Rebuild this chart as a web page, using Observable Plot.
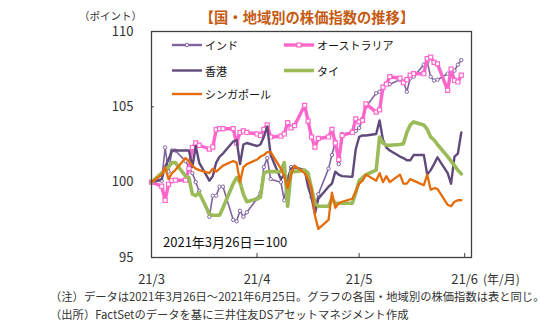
<!DOCTYPE html>
<html><head><meta charset="utf-8">
<script src="https://cdn.jsdelivr.net/npm/d3@7"></script>
<script src="https://cdn.jsdelivr.net/npm/@observablehq/plot@0.6"></script>
<style>
body{margin:0;background:#fff;}
#chart{width:558px;height:323px;}
svg{display:block;}
</style></head><body><div id="chart"></div>
<script>
const dates = [
"2021-03-26",
"2021-03-29","2021-03-30","2021-03-31","2021-04-01","2021-04-02",
"2021-04-05","2021-04-06","2021-04-07","2021-04-08","2021-04-09",
"2021-04-12","2021-04-13","2021-04-14","2021-04-15","2021-04-16",
"2021-04-19","2021-04-20","2021-04-21","2021-04-22","2021-04-23",
"2021-04-26","2021-04-27","2021-04-28","2021-04-29","2021-04-30",
"2021-05-03","2021-05-04","2021-05-05","2021-05-06","2021-05-07",
"2021-05-10","2021-05-11","2021-05-12","2021-05-13","2021-05-14",
"2021-05-17","2021-05-18","2021-05-19","2021-05-20","2021-05-21",
"2021-05-24","2021-05-25","2021-05-26","2021-05-27","2021-05-28",
"2021-05-31","2021-06-01","2021-06-02","2021-06-03","2021-06-04",
"2021-06-07","2021-06-08","2021-06-09","2021-06-10","2021-06-11",
"2021-06-14","2021-06-15","2021-06-16","2021-06-17","2021-06-18",
"2021-06-21","2021-06-22","2021-06-23","2021-06-24","2021-06-25"];

const india = [100.0,
100.1,102.3,100.7,102.1,102.1,
101.4,101.0,100.6,100.0,99.4,
97.7,99.1,99.1,99.7,99.7,
97.5,97.4,98.1,97.7,98.0,
98.9,99.3,101.0,101.6,100.2,
100.0,98.8,100.3,101.0,101.0,
100.7,100.2,99.0,98.2,99.2,
100.9,101.8,102.7,101.2,103.2,
103.3,103.4,103.6,104.2,105.0,
105.9,106.0,106.3,106.5,106.5,
106.8,106.7,106.0,106.9,107.0,
107.8,108.0,107.0,106.75,106.8,
107.2,107.2,107.4,107.8,108.1];

const australia = [100.0,
99.73,98.8,99.86,100.1,100.13,
100.13,100.9,102.3,102.6,102.45,
102.2,102.33,103.48,103.55,103.55,
103.55,102.6,103.3,103.4,103.3,
103.2,103.1,103.5,103.8,103.0,
103.05,103.2,103.95,103.6,103.75,
105.1,104.05,103.0,102.33,102.9,
103.0,103.5,102.6,101.5,103.1,
103.3,104.2,104.0,104.1,105.2,
104.65,104.8,106.3,106.5,107.0,
106.9,106.6,106.8,107.1,107.2,
107.2,108.2,108.3,107.95,107.85,
106.1,107.5,106.75,106.65,107.1];

const hongkong = [100.0,
100.2,101.0,101.5,102.1,102.1,
102.1,102.1,101.0,102.4,101.3,
100.1,100.4,101.3,101.7,101.9,
102.7,102.8,101.2,102.5,102.6,
102.4,102.5,103.0,103.7,101.8,
100.2,100.5,100.1,100.9,101.0,
100.8,99.7,99.0,97.9,98.9,
99.7,99.9,100.7,100.5,100.4,
100.35,102.2,103.0,103.1,103.1,
103.2,104.1,102.8,102.3,102.1,
101.7,101.6,101.45,101.45,101.8,
101.8,100.5,100.8,101.2,101.65,
100.6,99.9,101.7,101.9,103.3];

const thailand = [100.0,
100.6,100.8,101.0,101.3,101.3,
100.4,100.3,99.2,99.1,99.3,
97.9,97.8,97.8,97.8,98.3,
99.9,100.3,100.0,99.2,98.7,
98.9,99.0,100.6,100.7,100.7,
100.7,101.3,98.4,100.7,100.7,
100.8,100.6,99.6,98.6,98.4,
98.4,98.9,98.6,98.6,98.6,
98.6,99.3,100.1,100.3,100.5,
100.8,103.0,102.6,102.45,102.45,
102.5,102.55,103.3,103.8,104.0,
103.8,103.5,103.0,102.8,102.5,
101.7,101.4,101.1,100.8,100.55];

const singapore = [100.0,
100.5,101.0,100.2,100.6,100.8,
101.6,101.4,101.1,100.9,100.8,
100.6,100.9,100.7,100.9,101.1,
101.4,101.3,100.0,101.0,101.2,
101.5,101.7,101.8,102.0,102.0,
100.9,100.4,99.6,100.5,101.1,
100.6,100.2,99.6,97.8,96.9,
97.5,99.3,98.3,98.6,98.7,
98.9,99.4,99.9,100.1,100.5,
100.1,100.6,100.0,100.4,100.0,
100.5,99.9,99.9,100.2,100.1,
99.8,100.5,99.5,99.6,99.55,
98.5,98.4,98.7,98.8,98.8];

const seriesNames = ["インド","オーストラリア","香港","タイ","シンガポール"];
const seriesValues = [india, australia, hongkong, thailand, singapore];
const yTicks = [95, 100, 105, 110];
const xTickDates = ["2021-03-26","2021-04-26","2021-05-26","2021-06-26"];
const xTickLabels = ["21/3","21/4","21/5","21/6"];
const xDomain = ["2021-03-26","2021-06-28"];

const titleText = "【国・地域別の株価指数の推移】";
const yUnit = "（ポイント）";
const xUnit = "(年/月)";
const baseNote = "2021年3月26日＝100";
const notes = ["（注）データは2021年3月26日～2021年6月25日。グラフの各国・地域別の株価指数は表と同じ。",
               "（出所）FactSetのデータを基に三井住友DSアセットマネジメント作成"];

const colors = {"インド":"#8064A2","オーストラリア":"#FF66CC","香港":"#604A7B","タイ":"#9BBB59","シンガポール":"#E46C0A"};
const widths = {"インド":1.6,"オーストラリア":3.4,"香港":2.4,"タイ":3.6,"シンガポール":2.3};

const parse = d3.utcParse("%Y-%m-%d");
const rows = seriesNames.flatMap((s, k) => seriesValues[k].map((v, i) => ({series: s, date: parse(dates[i]), value: v})));
const tickTimes = xTickDates.map(parse);
const FONT = "'Noto Sans CJK JP','Noto Sans',sans-serif";

const lineMarks = seriesNames.map(s => Plot.line(rows.filter(r => r.series === s), {
  x: "date", y: "value", stroke: colors[s], strokeWidth: widths[s], strokeLinejoin: "round", strokeLinecap: "round"
}));

const svg = Plot.plot({
  width: 558, height: 323,
  marginTop: 31, marginLeft: 151, marginRight: 87, marginBottom: 66,
  style: {fontFamily: FONT, fontSize: "13px", color: "#404040", background: "white", overflow: "visible"},
  x: {type: "utc", domain: xDomain.map(parse)},
  y: {domain: [95, 110]},
  marks: [
    Plot.axisY({ticks: yTicks, tickSize: -3, tickPadding: 21, label: null, fontSize: 13, fill: "#333"}),
    Plot.axisX({ticks: tickTimes, tickSize: -4, tickPadding: 21, label: null, fontSize: 13, fill: "#333",
      tickFormat: d => xTickLabels[tickTimes.findIndex(t => +t === +d)]}),
    lineMarks[0],
    Plot.dot(rows.filter(r => r.series === "インド"), {x: "date", y: "value", r: 1.7, fill: "white", stroke: colors["インド"], strokeWidth: 1}),
    lineMarks[1],
    Plot.dot(rows.filter(r => r.series === "オーストラリア"), {x: "date", y: "value", symbol: "square", r: 2.3, fill: "white", stroke: colors["オーストラリア"], strokeWidth: 1.2}),
    lineMarks[2], lineMarks[3], lineMarks[4],
    Plot.frame({stroke: "#404040", strokeWidth: 1.3})
  ]
});

const g = d3.select(svg);
function txt(x, y, s, size, fill, anchor, weight) {
  return g.append("text").attr("x", x).attr("y", y).attr("text-anchor", anchor || "start")
    .attr("dominant-baseline", "central").attr("font-size", size).attr("fill", fill)
    .attr("font-weight", weight || "normal").attr("font-family", FONT).text(s);
}
txt(307, 16, titleText, 14.3, "#C55A11", "middle", "bold");
txt(142, 15, yUnit, 10.5, "#333", "end");
txt(483, 278, xUnit, 12, "#333", "start");
txt(163, 241, baseNote, 13, "#111", "start");
notes.forEach((t, i) => txt(50, 296 + i * 18, t, 11.3, "#333", "start"));

// legend
const legendPos = [[172, 45], [284, 45], [172, 70.5], [284, 70.5], [172, 94]];
seriesNames.forEach((s, k) => {
  const [lx, ly] = legendPos[k];
  const lg = g.append("g");
  lg.append("line").attr("x1", lx).attr("x2", lx + 30).attr("y1", ly).attr("y2", ly)
    .attr("stroke", colors[s]).attr("stroke-width", Math.max(widths[s], 2.4));
  if (s === "インド") lg.append("circle").attr("cx", lx + 15).attr("cy", ly).attr("r", 1.7).attr("fill", "white").attr("stroke", colors[s]);
  if (s === "オーストラリア") lg.append("rect").attr("x", lx + 13).attr("y", ly - 2).attr("width", 4).attr("height", 4).attr("fill", "white").attr("stroke", colors[s]).attr("stroke-width", 1.2);
  lg.append("text").attr("x", lx + 33).attr("y", ly).attr("text-anchor", "start").attr("dominant-baseline", "central")
    .attr("font-size", 11).attr("fill", "#111").attr("font-family", FONT).text(s);
});

document.getElementById("chart").appendChild(svg);
</script></body></html>
